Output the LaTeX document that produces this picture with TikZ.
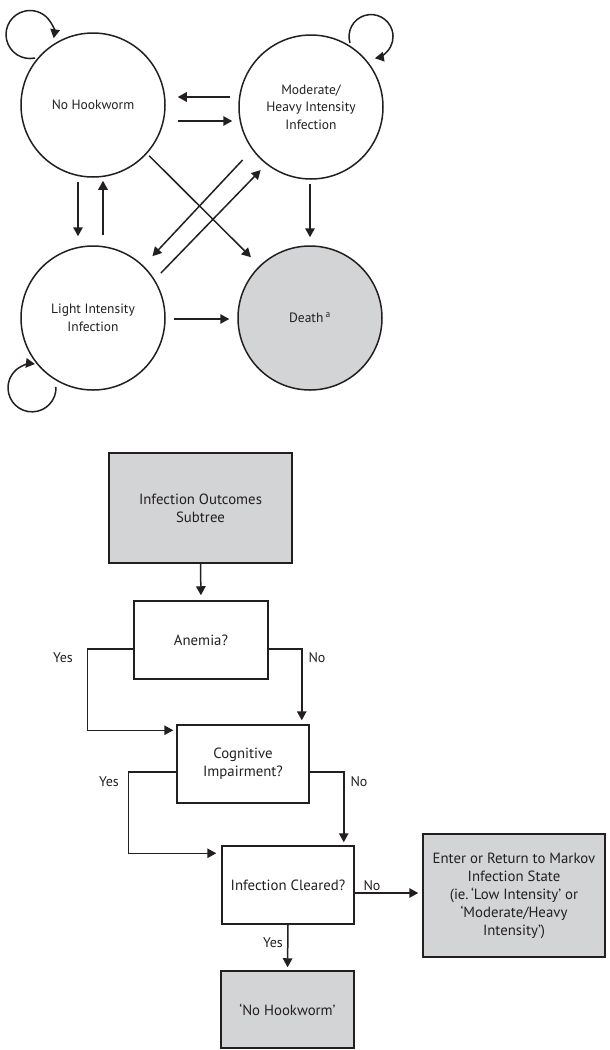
\documentclass[tikz,border=0pt]{standalone}
\usepackage{fontspec}
\setmainfont{PT Sans}
\usepackage{tikz}
\usetikzlibrary{arrows.meta, positioning, calc}
\definecolor{boxgray}{RGB}{211,212,214}
\definecolor{inkcol}{RGB}{35,31,32}

\begin{document}
\begin{tikzpicture}[x=1pt, y=-1pt, line width=1.5pt, color=inkcol,
    every node/.style={font=\fontsize{13.5}{17.5}\selectfont},
    state/.style={circle, draw, minimum size=144pt, inner sep=0pt, align=center},
    box/.style={rectangle, draw, inner sep=2pt, align=center, font=\fontsize{14.8}{18}\selectfont},
    arr/.style={-{Triangle[length=9pt, width=9.5pt]}},
    lbl/.style={inner sep=1pt, font=\fontsize{14}{17}\selectfont}]

    \useasboundingbox (0,0) rectangle (610,1050);

    % Markov states
    \node[state] (nohook) at (93,105) {No Hookworm};
    \node[state] (modheavy) at (311,107) {Moderate/\\Heavy Intensity\\Infection};
    \node[state] (light) at (93,318) {Light Intensity\\Infection};
    \node[state, fill=boxgray] (death) at (310,318) {Death\,\textsuperscript{a}};

    % self loops
    \draw[arr] ($(nohook)+(-58,-47)$) arc[start angle=-78, end angle=-369, radius=24pt];
    \draw[arr] ($(modheavy)+(39,-64)$) arc[start angle=197, end angle=-80, radius=22pt];
    \draw[arr] ($(light)+(-37,69)$) arc[start angle=2, end angle=-277, radius=24pt];

    % transitions
    \draw[arr] ($(modheavy.west)+(-8,-10)$) -- ($(nohook.east)+(12,-8)$);
    \draw[arr] ($(nohook.east)+(12,16)$) -- ($(modheavy.west)+(-6,14)$);
    \draw[arr] ($(nohook.south)+(-15,4)$) -- ($(light.north)+(-15,-9)$);
    \draw[arr] ($(light.north)+(10,-10)$) -- ($(nohook.south)+(10,3)$);
    \draw[arr] ($(modheavy.south)+(-1,4)$) -- ($(death.north)+(0,-8)$);
    \draw[arr] ($(light.east)+(8,1)$) -- ($(death.west)+(-8,1)$);
    \draw[arr, shorten <=3pt, shorten >=12pt] (nohook.-42) -- (death.134);
    \draw[arr, shorten <=14pt, shorten >=13pt] (modheavy.216) -- (light.46);
    \draw[arr, shorten <=9pt, shorten >=8pt] (light.32) -- (modheavy.232);

    % subtree boxes
    \node[box, fill=boxgray, minimum width=183pt, minimum height=110pt] (subtree) at (200.5,508) {Infection Outcomes\\Subtree};
    \node[box, minimum width=134pt, minimum height=78pt] (anemia) at (201,640) {Anemia?};
    \node[box, minimum width=132pt, minimum height=78pt] (cognitive) at (243,764) {Cognitive\\Impairment?};
    \node[box, minimum width=132pt, minimum height=78pt] (cleared) at (288,885) {Infection Cleared?};
    \node[box, fill=boxgray, minimum width=182pt, minimum height=123pt] (markov) at (514,895.5)
        {Enter or Return to Markov\\Infection State\\(ie.\,`Low Intensity' or\\`Moderate/Heavy\\Intensity')};
    \node[box, fill=boxgray, minimum width=133pt, minimum height=77pt] (nohookbox) at (287.5,1009.5) {`No Hookworm'};

    % branches
    \draw[arr, shorten >=5pt] (subtree.south) -- (anemia.north);
    \draw[arr, shorten >=3pt] ([yshift=-9pt]anemia.west) -- ++(-46,0) |- ([yshift=-6pt]cognitive.north west);
    \draw[arr, shorten >=4pt] ([yshift=-9pt]anemia.east) -| ([xshift=-8pt]cognitive.north east);
    \draw[arr, shorten >=5pt] ([yshift=-8pt]cognitive.west) -- ++(-48,0) |- ([yshift=-8pt]cleared.north west);
    \draw[arr, shorten >=3pt] ([yshift=-8pt]cognitive.east) -| ([xshift=-11pt]cleared.north east);
    \draw[arr, shorten >=4pt] ([yshift=-8pt]cleared.east) -- ([yshift=-8pt]cleared.east -| markov.west);
    \draw[arr, shorten >=3pt] (cleared.south) -- (nohookbox.north);

    % branch labels
    \node[lbl] (yesA) at (63,658) {Yes};
    \node[lbl] (noA) at (317,658) {No};
    \node[lbl] (yesB) at (109,782) {Yes};
    \node[lbl] (noB) at (359,782) {No};
    \node[lbl] (noC) at (372,886) {No};
    \node[lbl] (yesC) at (273,943) {Yes};

\end{tikzpicture}
\end{document}
